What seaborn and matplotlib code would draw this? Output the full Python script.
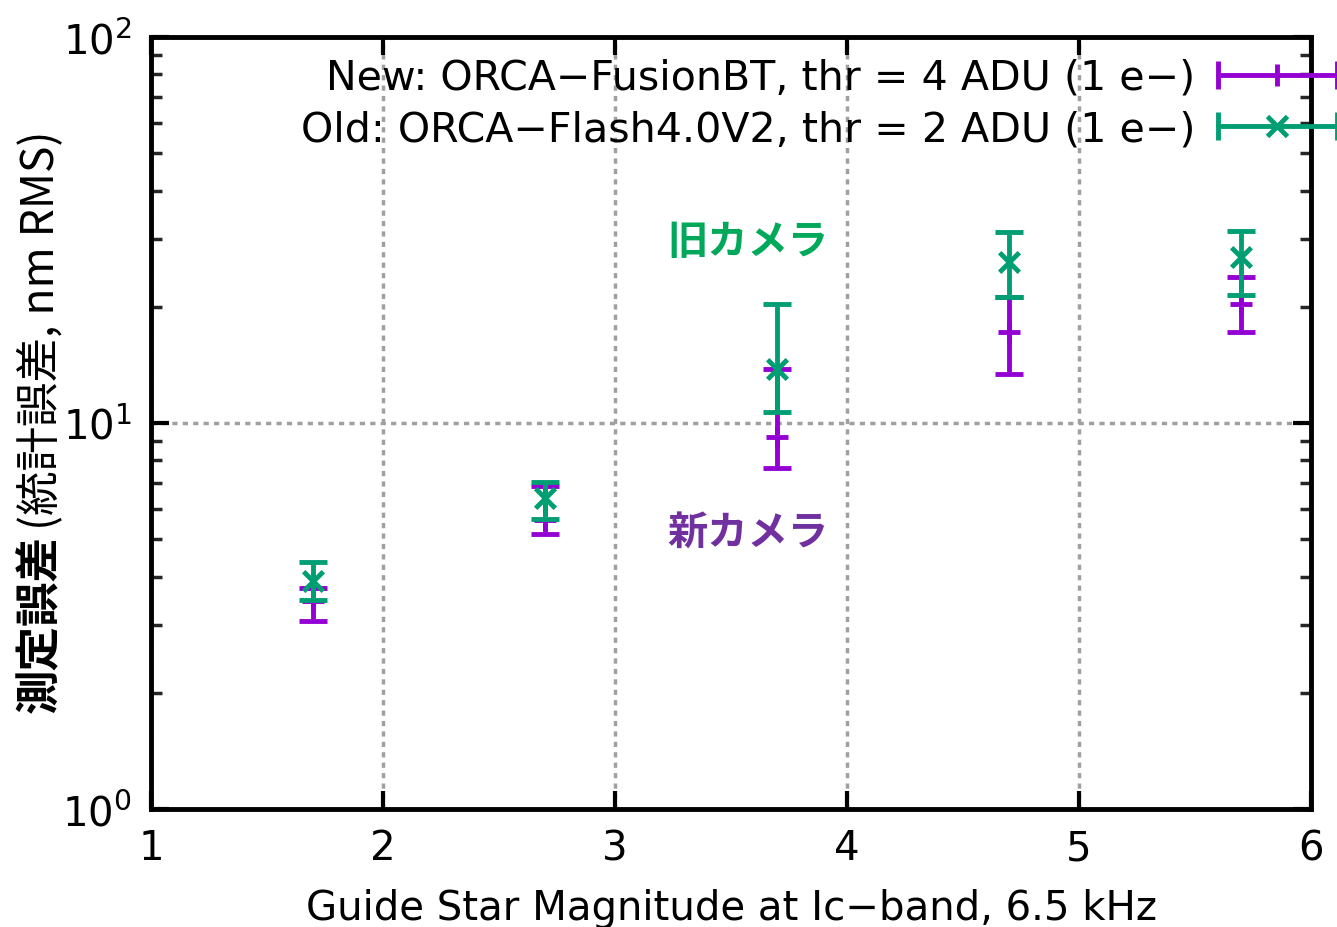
import numpy as np
import pandas as pd
import matplotlib
matplotlib.use("Agg")
import matplotlib.pyplot as plt
import seaborn as sns
from matplotlib.lines import Line2D
from matplotlib.legend_handler import HandlerLine2D, HandlerTuple
from matplotlib.ticker import NullFormatter, FixedLocator

mag = [1.7, 2.7, 3.7, 4.7, 5.7]

new_err = [3.46, 5.61, 9.2, 17.2, 20.3]
new_low = [3.07, 5.16, 7.64, 13.4, 17.2]
new_high = [3.74, 6.87, 13.8, 21.2, 23.9]

old_err = [3.90, 6.39, 13.8, 26.1, 26.9]
old_low = [3.48, 5.64, 10.7, 21.2, 21.5]
old_high = [4.36, 7.03, 20.3, 31.2, 31.4]

new_label = "New: ORCA\u2212FusionBT, thr = 4 ADU (1 e\u2212)"
old_label = "Old: ORCA\u2212Flash4.0V2, thr = 2 ADU (1 e\u2212)"

purple = "#9400D3"
green = "#009E73"

sns.set_theme(style="ticks")
plt.rcParams['font.family'] = ['DejaVu Sans', 'Noto Sans CJK JP']
plt.rcParams['text.color'] = 'black'
plt.rcParams['axes.labelcolor'] = 'black'
plt.rcParams['axes.unicode_minus'] = True

df = pd.DataFrame({'mag': mag, 'new': new_err, 'old': old_err})

fig = plt.figure(figsize=(13.37, 9.28), dpi=100)
ax = fig.add_axes([151 / 1337, 1 - 810 / 928, (1311 - 151) / 1337, (810 - 38) / 928])

# error bars: purple first, green on top
for y, lo, hi, col, z in [(new_err, new_low, new_high, purple, 3),
                          (old_err, old_low, old_high, green, 5)]:
    y = np.array(y)
    yerr = [y - np.array(lo), np.array(hi) - y]
    ax.errorbar(mag, y, yerr=yerr, fmt='none', ecolor=col, elinewidth=3.5,
                capsize=10, capthick=3.5, zorder=z)

sns.scatterplot(data=df, x='mag', y='new', marker='+', color=purple, s=260,
                linewidth=3.5, ax=ax, zorder=4, legend=False)
sns.scatterplot(data=df, x='mag', y='old', marker='x', color=green, s=200,
                linewidth=3.5, ax=ax, zorder=6, legend=False)

ax.set_yscale('log')
ax.set_xlim(1, 6)
ax.set_ylim(1, 100)
ax.xaxis.set_major_locator(FixedLocator([1, 2, 3, 4, 5, 6]))
ax.yaxis.set_minor_formatter(NullFormatter())

ax.grid(True, which='major', linestyle=(0, (1.5, 1.5)), color='#a0a0a0', lw=2.5)
for s in ax.spines.values():
    s.set_linewidth(3.5)
    s.set_color('black')
    s.set_zorder(10)

ax.tick_params(which='major', direction='in', length=13, width=3, top=True,
               right=True, labelsize=29, pad=14, colors='black')
ax.tick_params(which='minor', direction='in', length=8, width=2.5, top=False,
               right=True)
ax.tick_params(axis='x', which='minor', bottom=False, top=False)

ax.set_xlabel("Guide Star Magnitude at Ic\u2212band, 6.5 kHz", fontsize=29, labelpad=14)
ax.set_ylabel("")

# y label: bold part + normal part, stacked along the rotated axis
cjk = ['Noto Sans CJK JP', 'DejaVu Sans']
fig.text(40 / 1337, 1 - 713 / 928, "測定誤差", rotation=90, ha='center', va='bottom',
         fontsize=32, fontweight='bold', family=cjk)
fig.text(40 / 1337, 1 - 530 / 928, "(統計誤差, nm RMS)", rotation=90, ha='center',
         va='bottom', fontsize=32, family=cjk)

# annotations
fig.text(748 / 1337, 1 - 243 / 928, "旧カメラ", ha='center', va='center', fontsize=29,
         fontweight='bold', color="#00A85A", family=cjk)
fig.text(748 / 1337, 1 - 533 / 928, "新カメラ", ha='center', va='center', fontsize=29,
         fontweight='bold', color="#7030A0", family=cjk)

# legend with gnuplot-like samples (horizontal bar, end caps, point in the middle)
cap_new = Line2D([], [], color=purple, lw=3.5, marker='|', markersize=20, mew=3.5)
pt_new = Line2D([], [], color=purple, lw=0, marker='|', markersize=16, mew=3.5)
cap_old = Line2D([], [], color=green, lw=3.5, marker='|', markersize=20, mew=3.5)
pt_old = Line2D([], [], color=green, lw=0, marker='x', markersize=14, mew=3.5)
hmap = {cap_new: HandlerLine2D(numpoints=2, marker_pad=0),
        cap_old: HandlerLine2D(numpoints=2, marker_pad=0),
        pt_new: HandlerLine2D(numpoints=1),
        pt_old: HandlerLine2D(numpoints=1),
        tuple: HandlerTuple(ndivide=1)}
leg = fig.legend([(cap_new, pt_new), (cap_old, pt_old)], [new_label, old_label],
                 loc='upper right', bbox_to_anchor=(1.0, 1 - 59 / 928),
                 markerfirst=False, frameon=False, fontsize=29.6, handlelength=2.9,
                 handletextpad=0.55, labelspacing=0.28, borderpad=0, borderaxespad=0,
                 handler_map=hmap)

fig.savefig("out.png", dpi=100)
